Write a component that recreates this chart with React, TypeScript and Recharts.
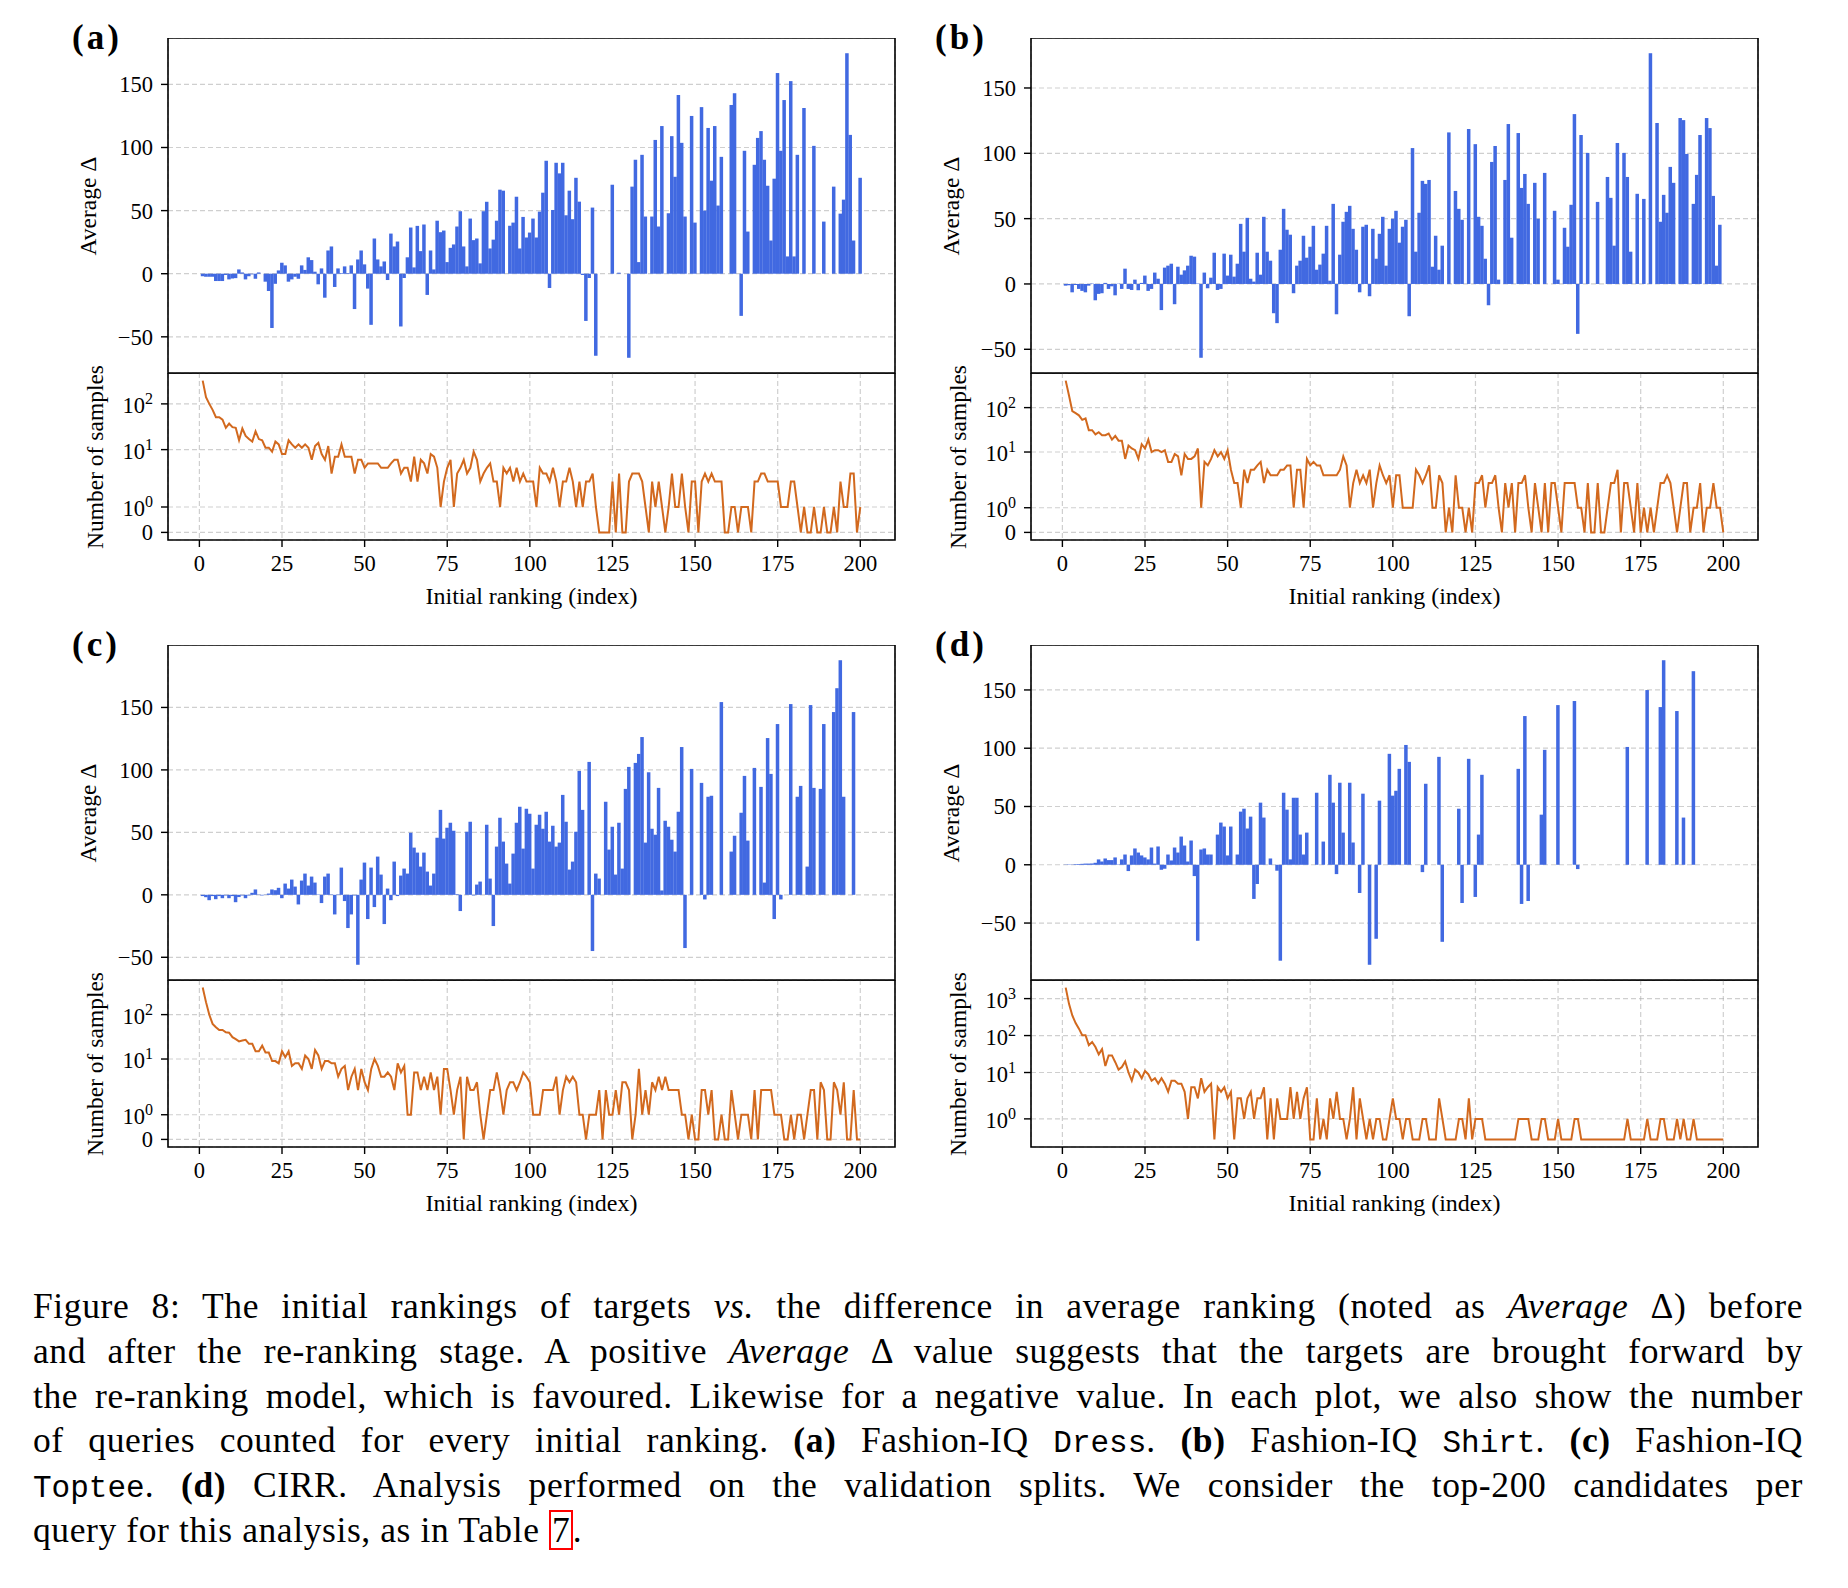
import React from "react"
import { BarChart, Bar, LineChart, Line, XAxis, YAxis, CartesianGrid, ReferenceArea } from "recharts"

const RANKS = Array.from({ length: 200 }, (_, i) => i + 1)
const X_TICKS = [0, 25, 50, 75, 100, 125, 150, 175, 200]
const DELTA_TICKS = [-50, 0, 50, 100, 150]
const COUNT_TICKS = [0, 1, 10, 100]
const COUNT_TICKS_CIRR = [0, 1, 10, 100, 1000]

// (a) Fashion-IQ Dress
const DRESS_DELTA = [
  -2, -2.4, -2.4, -2.4, -5.8, -5.8, -5.8, -1, -4.5, -3.8, -3.5, 3.4, 1, -4.5, -2, -0.5, -4, 1, 0, -6.3,
  -13.7, -43, -8, 2.6, 8.7, 6.6, -6.3, -4.5, -2.4, -4, 6.6, 3, 13, 10.8, 1.6, -8.4, 4.2, -19, 18.4, 21.6,
  -10.5, 4.2, 0.5, 5.8, 0.5, 6.6, -28, 11.3, 18.4, 7.4, -11.8, -40.5, 27.9, 11.3, 5.8, 9.7, -5, 31.8, 21.6, 25.5,
  -41.8, -3.4, 13, 36.6, 5, 37.9, 17.9, 39, -16.8, 18.4, 3.4, 42, 32.9, 34.2, 9.2, 20.5, 23.2, 37.4, 49.5, 21.6,
  5.8, 43.7, 26.6, 27.9, 8.2, 49.5, 57, 20, 27, 42, 66.6, 65.8, 0, 38, 40.5, 61, 20, 45, 28.7, 32.6,
  43.7, 28.7, 49.2, 64.2, 89.5, -11.3, 50.5, 87.9, 79.5, 87.9, 46.3, 65.8, 43.2, 76, 57.1, -1, -37.4, -3.4, 52.4, -65,
  0, 0, 0, 0, 70.5, 0, 0.8, 0, 0, -66.6, 69, 90.3, 9.2, 94.2, 45.3, 0, 45.3, 106, 37.4, 117,
  0, 47.9, 109, 76.8, 141.6, 103.7, 45.3, 0, 125, 40.5, 0, 132, 50, 115.5, 73.7, 117, 54, 92.6, 0, 0,
  133.7, 143, 0, -33.4, 97.4, 33.4, 0, 86.3, 107.6, 113, 90.3, 69.7, 26.3, 75.3, 159, 97.4, 137.6, 13.7, 152.6, 13.7,
  94.2, 0, 131.3, 0, 0, 101.3, 0, 0, 41.3, 0, 0, 69, 0, 47.6, 58.7, 174.7, 110, 26.3, 0, 76,
]
const DRESS_COUNT = [
  323, 140, 100, 74, 51, 51, 45, 30, 37, 31, 30, 16, 29, 20, 17, 15, 25, 17, 16, 11,
  11, 9, 15, 13, 8, 8, 16, 13, 11, 13, 11, 13, 11, 6, 12, 14, 8, 6, 12, 3,
  7, 7, 13, 7, 7, 7, 3, 6, 6, 4, 5, 5, 5, 5, 4, 4, 4, 5, 6, 6,
  3, 4, 4, 2, 7, 2, 6, 5, 3, 8, 7, 4, 1, 2, 4, 6, 1, 3, 4, 6,
  3, 4, 9, 6, 2, 3, 4, 5, 2, 2, 1, 4, 3, 4, 2, 4, 2, 3, 2, 2,
  2, 1, 4, 3, 3, 2, 4, 2, 1, 2, 2, 4, 2, 1, 2, 1, 2, 2, 3, 1,
  0, 0, 0, 0, 2, 0, 3, 0, 0, 2, 3, 3, 3, 2, 1, 0, 2, 1, 2, 1,
  0, 1, 3, 1, 1, 3, 1, 0, 2, 2, 0, 2, 3, 2, 3, 2, 2, 2, 0, 0,
  1, 1, 0, 1, 1, 1, 0, 2, 2, 3, 3, 2, 2, 2, 2, 1, 1, 1, 2, 2,
  1, 0, 1, 0, 0, 1, 0, 0, 1, 0, 0, 1, 0, 2, 1, 1, 3, 3, 0, 1,
]

// (b) Fashion-IQ Shirt
const SHIRT_DELTA = [
  -1.3, -1, -6.4, -0.8, -3.8, -5.3, -6.4, -1.3, 0.3, -12.5, -7.6, -7.1, 0.8, -3.8, -1.8, -8.7, 0.2, -3.8, 11.7, -3.8,
  -4.6, 3.3, -4.8, 0.8, 6.4, -5.3, -3.8, 8.7, 4, -20, 12.5, 14, 15.5, -15.5, 13.2, 7.1, 10.4, 14, 21.6, 20.9,
  0.3, -56.5, 8.7, -3.3, 4.8, 23.9, -4.6, -3.8, 23.2, 6.4, 22.4, 5.6, 15.5, 46, 24.7, 50.6, 4, 1.8, 23.9, 7.1,
  51.4, 24.7, 17.8, -22.4, -30, 26.2, 57.5, 41.5, 37.7, -7.1, 14, 17.8, 36.9, 20.1, 28.5, 44.5, 10.9, 14.8, 23.2, 44.5,
  2.5, 61.3, -23.2, 22.4, 47.6, 55.2, 59.8, 42.2, 26.2, -6.4, 43.8, 45.3, -9.4, 42.2, 19.3, 38.4, 51.4, 14, 42.2, 49.9,
  56, 31.6, 43.8, 49.1, -24.7, 104, 24.7, 54.5, 78.9, 76.6, 79.6, 13.2, 36.9, 10.9, 29.3, 0, 116, 0, 71.2, 57.5,
  49.1, 0, 118.6, 0, 107, 51.4, 44.5, 19.3, -16.3, 93.4, 105.6, 3.3, 0, 79.6, 122.4, 35.4, 0, 115.5, 73.5, 84.2,
  61.3, 0, 77.4, 49.9, 0, 85, 0, 0, 56, 3.3, 0, 43, 28.5, 60.6, 130, -38.2, 114, 0, 100.3, 0,
  0, 62.8, 0, 0, 81.9, 65.9, 29.3, 107.9, 0, 100.3, 81.9, 24.7, 0, 69, 0, 65.1, 0, 176.6, 0, 123.2,
  47.6, 68.2, 54.5, 89.6, 77.4, 0, 127, 125.4, 99.5, 0, 61.3, 83.5, 114, 0, 127, 119.3, 67.4, 14, 45.3, 0,
]
const SHIRT_COUNT = [
  406, 187, 83, 75, 67, 53, 57, 31, 31, 25, 28, 24, 24, 26, 19, 23, 18, 18, 7, 14,
  12, 11, 7, 15, 12, 19, 10, 11, 11, 10, 11, 6, 6, 9, 8, 3, 9, 7, 7, 8,
  12, 1, 6, 5, 7, 11, 8, 10, 7, 11, 4, 2, 2, 1, 4, 2, 4, 4, 5, 6,
  2, 4, 3, 3, 3, 4, 4, 5, 5, 1, 4, 4, 1, 7, 5, 6, 5, 5, 3, 3,
  3, 3, 3, 4, 8, 5, 1, 2, 4, 2, 3, 2, 4, 1, 2, 5, 3, 2, 3, 1,
  3, 3, 1, 1, 1, 1, 4, 3, 2, 3, 5, 1, 1, 3, 2, 0, 1, 0, 3, 1,
  1, 0, 1, 0, 2, 2, 3, 1, 2, 2, 3, 1, 0, 2, 1, 2, 0, 2, 2, 3,
  1, 0, 2, 1, 0, 2, 0, 2, 2, 1, 0, 2, 2, 2, 2, 1, 1, 0, 2, 0,
  0, 2, 0, 0, 1, 2, 2, 4, 0, 2, 2, 1, 0, 2, 0, 1, 0, 1, 0, 1,
  2, 2, 3, 2, 1, 0, 1, 2, 2, 0, 1, 1, 2, 0, 1, 1, 2, 1, 1, 0,
]

// (c) Fashion-IQ Toptee
const TOPTEE_DELTA = [
  -1, -1.9, -4.3, -1, -3.5, -1, -2.7, -0.5, -2.7, -1, -5.9, -1.8, -0.5, -2.7, -0.5, 1.6, 4.3, 0.2, -0.5, 0.2,
  1, 4.3, 3.7, 5.6, -2.7, 9, 5, 12.2, 6.6, -7.7, 11.4, 17, 7.4, 14.6, 9.8, 0.3, -6.6, 14.6, 17, 0.3,
  -15.7, 0.3, 21.8, -5, -26.6, -15.7, -0.5, -56, 12.2, 25.8, -19.4, 21.8, -9.8, 30.6, 16.2, -23.4, 5, -4.3, 26.6, -1,
  15.4, 21, 17, 49.7, 37.8, 33.8, 22.6, 33.8, 18.6, 7.4, 17, 45.7, 68, 45, 53.7, 57.7, 51.3, 0.5, -13, 0,
  50.5, 58.5, -0.5, 8.2, 10.6, 0, 56.1, 13, -25, 38.6, 61.7, 42.6, 25, 9, 33, 57.7, 70.5, 37, 68.9, 64.9,
  21, 56.1, 64.1, 52.9, 66.5, 42.6, 55.3, 38.6, 41.8, 80, 58.5, 20.2, 26.6, 50.5, 99.2, 68, 0, 106.4, -45, 17,
  13, 0, 74.5, 36.2, 54.5, 16.2, 57.7, 21, 84.8, 102.4, 0, 105.6, 112.8, 126.3, 41.8, 98.1, 52.9, 48.1, 85.6, 3.5,
  59.3, 54.5, 44.1, 34.6, 66.5, 118.3, -42.6, 0, 100.8, 0, 0, 89.6, -3.7, 78.5, 79.3, 0, 0, 154.3, 0, 0,
  34.6, 47.3, 0, 65.7, 95.2, 43.4, 0, 101.6, 0, 86.4, 9.8, 125.5, 96.8, -19.4, 136.7, -3.7, 0, 0, 152.7, 0,
  78.5, 87.2, 0, 22.6, 151.9, 85.6, 0, 84.8, 136.7, 0, 0, 146.3, 165.4, 187.8, 78.5, 0, 0, 146.3, 0, 0,
]
const TOPTEE_COUNT = [
  406, 191, 99, 62, 52, 45, 45, 40, 39, 31, 28, 25, 26, 27, 22, 22, 15, 15, 20, 14,
  14, 9, 9, 8, 15, 11, 15, 7, 8, 8, 6, 12, 10, 6, 16, 12, 6, 9, 9, 8,
  8, 4, 6, 7, 2, 4, 6, 2, 6, 3, 2, 6, 10, 7, 4, 4, 5, 4, 2, 8,
  5, 7, 1, 1, 5, 5, 2, 4, 2, 5, 2, 4, 1, 6, 6, 2, 1, 2, 4, 0,
  4, 2, 2, 3, 1, 0, 1, 2, 2, 5, 2, 1, 2, 3, 3, 2, 3, 5, 4, 3,
  1, 1, 1, 2, 2, 2, 2, 4, 1, 2, 4, 3, 4, 3, 1, 1, 0, 1, 1, 1,
  2, 0, 2, 1, 1, 2, 1, 3, 3, 2, 0, 1, 6, 1, 2, 1, 3, 2, 4, 2,
  4, 2, 2, 2, 2, 1, 1, 0, 1, 0, 0, 2, 2, 1, 2, 0, 0, 1, 0, 0,
  2, 1, 0, 1, 1, 1, 0, 2, 0, 2, 2, 2, 2, 1, 1, 1, 0, 0, 1, 0,
  1, 1, 0, 1, 2, 2, 0, 3, 2, 0, 0, 3, 2, 1, 3, 0, 0, 2, 0, 0,
]

// (d) CIRR
const CIRR_DELTA = [
  0.2, 0.3, 0.2, 0.5, 0.6, 0.8, 1, 1, 1.1, 1.7, 4.6, 2.8, 5.4, 4, 4, 6.3, 0.3, 4.6, 8.8, -5.4,
  8, 14, 10.5, 8, 6.3, 4.6, 14.8, 1, 15.7, -4.3, -3.4, 8.8, 3.7, 14.8, 10.5, 24.2, 16.5, 2.8, 20.8, -9.7,
  -65.2, 13.1, 14, 8.8, 8.8, 0, 25.9, 36.2, 32.8, 8, 32.8, 0, 8.8, 45.6, 48.1, 31.1, 41.3, -29.3, -16.5, 53.3,
  40.5, 0, 5.4, 0, -5.1, -82.3, 61.8, 47.3, 4.6, 57.5, 57.5, 25.9, 8.8, 27.6, 0, 0, 61.8, 0, 19.9, 0,
  77.2, 53.3, -8, 70.4, 27.6, 0, 70.4, 19.1, 0, -24.2, 61, 0, -85.8, 0, -63.5, 55, 0, 0, 95.2, 59.3,
  63.5, 82.3, 0, 102.8, 88.3, 0, 0, 0, -6.3, 69.5, 0, 0, 0, 92.6, -66.1, 0, 0, 0, 0, 48.1,
  -32.8, 0, 90.9, 0, -27.6, 25.9, 77.2, 0, 0, 0, 0, 0, 0, 0, 0, 0, 0, 82.3, -33.6, 127.6,
  -31.1, 0, 0, 0, 43, 98.6, 0, 0, 0, 137, 0, 0, 0, 0, 140.5, -3.7, 0, 0, 0, 0,
  0, 0, 0, 0, 0, 0, 0, 0, 0, 0, 101.1, 0, 0, 0, 0, 0, 149.9, 0, 0, 0,
  135.3, 175.5, 0, 0, 0, 131.9, 0, 40.5, 0, 0, 166.1, 0, 0, 0, 0, 0, 0, 0, 0, 0,
]
const CIRR_COUNT = [
  1986, 721, 350, 218, 154, 102, 102, 55, 67, 49, 31, 43, 15, 29, 29, 19, 12, 14, 20, 10,
  6, 12, 10, 7, 11, 9, 6, 7, 5, 7, 5, 3, 6, 6, 5, 5, 3, 1, 4, 4,
  2, 7, 3, 4, 5, 0, 4, 3, 4, 2, 3, 0, 2, 2, 1, 2, 3, 1, 2, 2,
  4, 0, 2, 0, 2, 1, 1, 1, 4, 1, 3, 1, 2, 4, 0, 0, 2, 0, 1, 0,
  2, 1, 3, 1, 1, 0, 1, 4, 0, 2, 1, 0, 1, 0, 1, 1, 0, 0, 1, 2,
  1, 1, 0, 1, 1, 0, 0, 0, 1, 1, 0, 0, 0, 2, 1, 0, 0, 0, 0, 1,
  1, 0, 2, 0, 1, 1, 1, 0, 0, 0, 0, 0, 0, 0, 0, 0, 0, 1, 1, 1,
  1, 0, 0, 0, 1, 1, 0, 0, 0, 1, 0, 0, 0, 0, 1, 1, 0, 0, 0, 0,
  0, 0, 0, 0, 0, 0, 0, 0, 0, 0, 1, 0, 0, 0, 0, 0, 1, 0, 0, 0,
  1, 1, 0, 0, 0, 1, 0, 1, 0, 0, 1, 0, 0, 0, 0, 0, 0, 0, 0, 0,
]

const SERIF = '"Liberation Serif", "Times New Roman", serif'
const MONO = '"Liberation Mono", "DejaVu Sans Mono", monospace'
const BLUE = "#4169e1"
const ORANGE = "#d2691e"

const PLOT_W = 727
const BAR_H = 335
const LINE_H = 167
const AXIS_W = 130
const BOTTOM_H = 48
const X_DOMAIN: [number, number] = [-9.5, 210.5]
const BAR_UNIT = PLOT_W / (X_DOMAIN[1] - X_DOMAIN[0])

// matplotlib symlog, linthresh 2, linscale 1
const LIN_ADJ = 1 / (1 - 1 / 10)
const symlog = (v: number) => (v <= 2 ? (v / 2) * LIN_ADJ : LIN_ADJ + Math.log10(v / 2))
const unSymlog = (t: number) => (t <= LIN_ADJ ? (t / LIN_ADJ) * 2 : 2 * Math.pow(10, t - LIN_ADJ))

const padded = (lo: number, hi: number): [number, number] => {
  const r = hi - lo
  return [lo - 0.05 * r, hi + 0.05 * r]
}

const fmtMinus = (v: number) => (v < 0 ? "\u2212" + Math.abs(v) : String(v))

// full-width bars (width 1 in data units), centred on the library's x position
const DeltaBar = (p: any) => {
  const { x, y, width, height, fill } = p
  if (height == null || isNaN(height)) return null
  const cx = x + width / 2
  const top = height < 0 ? y + height : y
  return <rect x={cx - BAR_UNIT / 2 - 0.1} y={top} width={BAR_UNIT + 0.2} height={Math.abs(height)} fill={fill} />
}

function PowTick({ x, y, payload }: any) {
  const n = Math.round(unSymlog(payload.value))
  if (n === 0) {
    return (
      <text x={x} y={y} dy={8} textAnchor="end" fontFamily={SERIF} fontSize={22.5} fill="#000">
        0
      </text>
    )
  }
  return (
    <text x={x} y={y} dy={9} textAnchor="end" fontFamily={SERIF} fontSize={22.5} fill="#000">
      10
      <tspan dy={-9} fontSize={16}>
        {Math.round(Math.log10(n))}
      </tspan>
    </text>
  )
}

const gridProps = { stroke: "#a8a8a8", strokeOpacity: 0.55, strokeDasharray: "5 3", strokeWidth: 1.2 }

interface PanelProps {
  tag: string
  left: number
  top: number
  delta: number[]
  counts: number[]
  countTicks: number[]
}

const Panel = ({ tag, left, top, delta, counts, countTicks }: PanelProps) => {
  const barData = RANKS.map((r, i) => ({ rank: r, delta: delta[i] }))
  const lineData = RANKS.map((r, i) => ({ rank: r, samples: symlog(counts[i]) }))
  const barDomain = padded(Math.min(0, ...delta), Math.max(0, ...delta))
  const lineDomain = padded(0, symlog(Math.max(...counts)))

  return (
    <>
      <div
        style={{
          position: "absolute",
          left: left - 96,
          top: top - 21,
          fontFamily: SERIF,
          fontWeight: "bold",
          fontSize: 35,
          lineHeight: "42px",
          letterSpacing: 3,
        }}
      >
        ({tag})
      </div>

      {/* Average delta bars */}
      <div style={{ position: "absolute", left: left - AXIS_W, top }}>
        <BarChart
          width={AXIS_W + PLOT_W + 10}
          height={BAR_H + 8}
          data={barData}
          margin={{ top: 0, right: 10, bottom: 0, left: 0 }}
          barCategoryGap={0}
          barGap={0}
        >
          <XAxis
            dataKey="rank"
            type="number"
            domain={X_DOMAIN}
            ticks={X_TICKS}
            allowDataOverflow
            height={8}
            tick={false}
            tickSize={7}
            axisLine={false}
            tickLine={{ stroke: "#000", strokeWidth: 1.4 }}
          />
          <YAxis
            type="number"
            domain={barDomain}
            ticks={DELTA_TICKS}
            allowDataOverflow
            width={AXIS_W}
            tickSize={7}
            tickMargin={8}
            axisLine={false}
            tickLine={{ stroke: "#000", strokeWidth: 1.4 }}
            tickFormatter={fmtMinus}
            tick={{ fontFamily: SERIF, fontSize: 22.5, fill: "#000" }}
          />
          <Bar dataKey="delta" fill={BLUE} barSize={BAR_UNIT} shape={DeltaBar} isAnimationActive={false} />
          <CartesianGrid {...gridProps} />
          <ReferenceArea
            x1={X_DOMAIN[0]}
            x2={X_DOMAIN[1]}
            y1={barDomain[0]}
            y2={barDomain[1]}
            fill="none"
            stroke="#000"
            strokeWidth={1.6}
          />
        </BarChart>
      </div>

      {/* Number of samples, symlog */}
      <div style={{ position: "absolute", left: left - AXIS_W, top: top + BAR_H }}>
        <LineChart
          width={AXIS_W + PLOT_W + 10}
          height={LINE_H + BOTTOM_H}
          data={lineData}
          margin={{ top: 0, right: 10, bottom: 0, left: 0 }}
        >
          <CartesianGrid {...gridProps} />
          <XAxis
            dataKey="rank"
            type="number"
            domain={X_DOMAIN}
            ticks={X_TICKS}
            allowDataOverflow
            height={BOTTOM_H}
            tickSize={7}
            tickMargin={8}
            axisLine={false}
            tickLine={{ stroke: "#000", strokeWidth: 1.4 }}
            tick={{ fontFamily: SERIF, fontSize: 22.5, fill: "#000" }}
          />
          <YAxis
            type="number"
            domain={lineDomain}
            ticks={countTicks.map(symlog)}
            allowDataOverflow
            width={AXIS_W}
            tickSize={7}
            tickMargin={8}
            axisLine={false}
            tickLine={{ stroke: "#000", strokeWidth: 1.4 }}
            tick={(p: any) => <PowTick {...p} />}
          />
          <Line
            type="linear"
            dataKey="samples"
            stroke={ORANGE}
            strokeWidth={2}
            dot={false}
            isAnimationActive={false}
          />
          <ReferenceArea
            x1={X_DOMAIN[0]}
            x2={X_DOMAIN[1]}
            y1={lineDomain[0]}
            y2={lineDomain[1]}
            fill="none"
            stroke="#000"
            strokeWidth={1.6}
          />
        </LineChart>
      </div>

      <div style={rotLabel(left - 80, top + BAR_H / 2)}>Average Δ</div>
      <div style={rotLabel(left - 73, top + BAR_H + LINE_H / 2)}>Number of samples</div>
      <div
        style={{
          position: "absolute",
          left: left + PLOT_W / 2,
          top: top + BAR_H + LINE_H + 56,
          transform: "translate(-50%, -50%)",
          fontFamily: SERIF,
          fontSize: 24,
          whiteSpace: "nowrap",
        }}
      >
        Initial ranking (index)
      </div>
    </>
  )
}

const rotLabel = (cx: number, cy: number): React.CSSProperties => ({
  position: "absolute",
  left: cx,
  top: cy,
  transform: "translate(-50%, -50%) rotate(-90deg)",
  fontFamily: SERIF,
  fontSize: 23.5,
  whiteSpace: "nowrap",
})

const it: React.CSSProperties = { fontStyle: "italic" }
const bf: React.CSSProperties = { fontWeight: "bold" }
const tt: React.CSSProperties = { fontFamily: MONO, fontSize: 31, letterSpacing: 0 }
const lineStyle: React.CSSProperties = { height: 44.8, textAlign: "justify", textAlignLast: "justify" }

export default function App() {
  return (
    <div
      style={{
        position: "absolute",
        left: 0,
        top: 0,
        width: 1848,
        height: 1588,
        background: "#fff",
        overflow: "hidden",
      }}
    >
      <Panel tag="a" left={168} top={38} delta={DRESS_DELTA} counts={DRESS_COUNT} countTicks={COUNT_TICKS} />
      <Panel tag="b" left={1031} top={38} delta={SHIRT_DELTA} counts={SHIRT_COUNT} countTicks={COUNT_TICKS} />
      <Panel tag="c" left={168} top={645} delta={TOPTEE_DELTA} counts={TOPTEE_COUNT} countTicks={COUNT_TICKS} />
      <Panel tag="d" left={1031} top={645} delta={CIRR_DELTA} counts={CIRR_COUNT} countTicks={COUNT_TICKS_CIRR} />

      <div
        style={{
          position: "absolute",
          left: 33,
          top: 1284,
          width: 1770,
          fontFamily: SERIF,
          fontSize: 35.5,
          letterSpacing: 0.6,
          lineHeight: "44.8px",
          color: "#000",
        }}
      >
        <div style={lineStyle}>
          Figure 8: The initial rankings of targets <span style={it}>vs.</span> the difference in average ranking
          (noted as <span style={it}>Average</span> Δ) before
        </div>
        <div style={lineStyle}>
          and after the re-ranking stage. A positive <span style={it}>Average</span> Δ value suggests that the
          targets are brought forward by
        </div>
        <div style={lineStyle}>
          the re-ranking model, which is favoured. Likewise for a negative value. In each plot, we also show the
          number
        </div>
        <div style={lineStyle}>
          of queries counted for every initial ranking. <span style={bf}>(a)</span> Fashion-IQ{" "}
          <span style={tt}>Dress</span>. <span style={bf}>(b)</span> Fashion-IQ <span style={tt}>Shirt</span>.{" "}
          <span style={bf}>(c)</span> Fashion-IQ
        </div>
        <div style={lineStyle}>
          <span style={tt}>Toptee</span>. <span style={bf}>(d)</span> CIRR. Analysis performed on the validation
          splits. We consider the top-200 candidates per
        </div>
        <div style={{ height: 44.8 }}>
          query for this analysis, as in Table{" "}
          <span
            style={{
              display: "inline-block",
              border: "2px solid #ff0000",
              lineHeight: "36px",
              padding: "0 1px",
              letterSpacing: 0,
            }}
          >
            7
          </span>
          .
        </div>
      </div>
    </div>
  )
}
